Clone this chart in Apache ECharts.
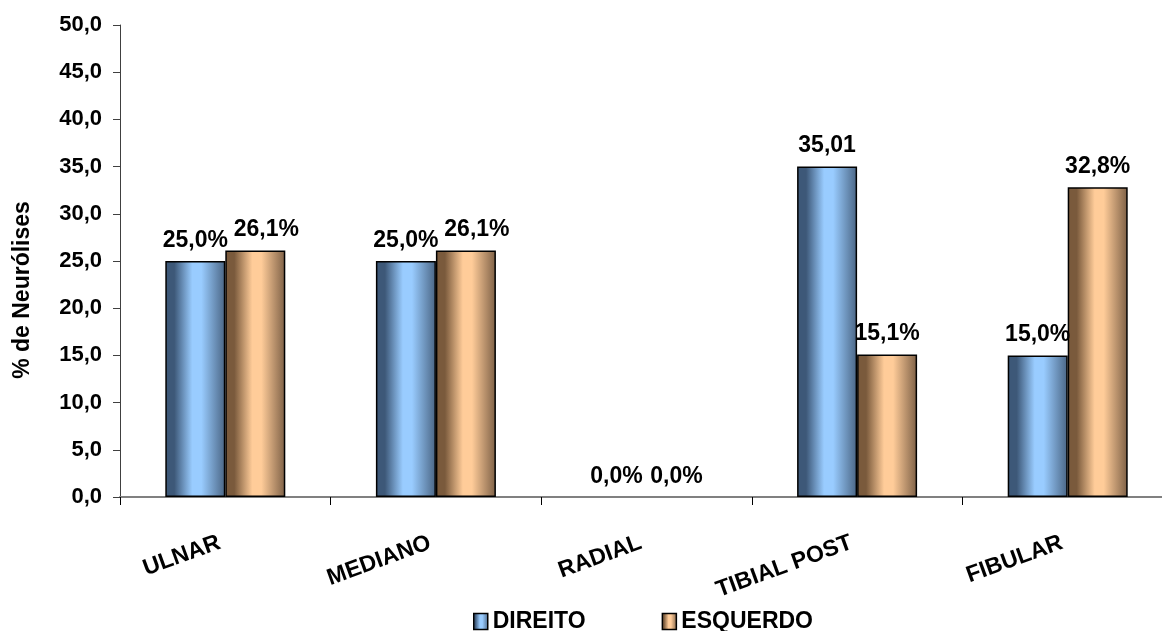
<!DOCTYPE html>
<html>
<head>
<meta charset="utf-8">
<style>
  html, body { margin: 0; padding: 0; background: #ffffff; }
  #chart { width: 1162px; height: 631px; }
</style>
<script src="https://cdn.jsdelivr.net/npm/echarts@6/dist/echarts.min.js"></script>
</head>
<body>
<div id="chart"></div>
<script>
// Nerves and share of neurolyses per side
const categories = ['ULNAR', 'MEDIANO', 'RADIAL', 'TIBIAL POST', 'FIBULAR'];
const direitoValues = [25.0, 25.0, 0.0, 35.01, 15.0];
const esquerdoValues = [26.1, 26.1, 0.0, 15.1, 32.8];
const direitoLabels = ['25,0%', '25,0%', '0,0%', '35,01', '15,0%'];
const esquerdoLabels = ['26,1%', '26,1%', '0,0%', '15,1%', '32,8%'];
const yTicks = [0, 5, 10, 15, 20, 25, 30, 35, 40, 45, 50];

const FONT = '"Liberation Sans", Arial, sans-serif';

// cylinder-like shading: dark edges, light centre
function shade(dark, light, darkRight) {
  return new echarts.graphic.LinearGradient(0, 0, 1, 0, [
    { offset: 0, color: dark },
    { offset: 0.15, color: dark },
    { offset: 0.45, color: light },
    { offset: 0.6, color: light },
    { offset: 1, color: darkRight }
  ]);
}
const blueFill = shade('#3d5878', '#99ccff', '#4a6584');
const tanFill = shade('#7a5a3c', '#ffcc99', '#7d6046');

const labelStyle = {
  show: true,
  position: 'top',
  distance: 9,
  color: '#000',
  fontFamily: FONT,
  fontWeight: 'bold',
  fontSize: 23
};

// the two overlapping right-hand labels are nudged sideways
const nudged = { 'ULNAR': 11, 'MEDIANO': 11 };

function buildData(values, labels, shiftMap) {
  return values.map((v, i) => {
    const item = { value: v, label: { formatter: labels[i] } };
    if (shiftMap && shiftMap[categories[i]]) {
      item.label.offset = [shiftMap[categories[i]], 0];
    }
    // empty bars leave no outline on the axis
    if (v === 0) {
      item.itemStyle = { borderWidth: 0 };
    }
    return item;
  });
}

const chart = echarts.init(document.getElementById('chart'));
chart.setOption({
  animation: false,
  backgroundColor: '#ffffff',
  grid: {
    left: 120, top: 25, width: 1053, height: 472,
    containLabel: false,
    outerBoundsMode: 'none'
  },
  legend: {
    left: 473,
    top: 610,
    padding: 0,
    icon: 'rect',
    itemWidth: 14,
    itemHeight: 16,
    itemGap: 76,
    textStyle: { fontFamily: FONT, fontWeight: 'bold', fontSize: 23, color: '#000' },
    data: [
      { name: 'DIREITO', itemStyle: { color: blueFill, borderColor: '#000', borderWidth: 1.5 } },
      { name: 'ESQUERDO', itemStyle: { color: tanFill, borderColor: '#000', borderWidth: 1.5 } }
    ]
  },
  xAxis: {
    type: 'category',
    data: categories,
    axisLine: { lineStyle: { color: '#808080', width: 2 } },
    axisTick: { show: true, length: 8, lineStyle: { color: '#000', width: 1 } },
    axisLabel: {
      rotate: 20,
      margin: 43,
      padding: [0, 6, 0, 0],
      color: '#000',
      fontFamily: FONT,
      fontWeight: 'bold',
      fontSize: 23,
      interval: 0
    },
    splitLine: { show: false }
  },
  yAxis: {
    type: 'value',
    min: yTicks[0],
    max: yTicks[yTicks.length - 1],
    interval: yTicks[1] - yTicks[0],
    name: '% de Neurólises',
    nameLocation: 'middle',
    nameGap: 86,
    nameRotate: 90,
    nameTextStyle: {
      fontFamily: FONT, fontWeight: 'bold', fontSize: 23, color: '#000',
      padding: [0, 58, 0, 0]
    },
    axisLine: { show: true, lineStyle: { color: '#404040', width: 1 } },
    axisTick: { show: true, length: 7, lineStyle: { color: '#404040' } },
    axisLabel: {
      margin: 18,
      color: '#000',
      fontFamily: FONT,
      fontWeight: 'bold',
      fontSize: 22,
      formatter: v => v.toFixed(1).replace('.', ',')
    },
    splitLine: { show: false }
  },
  series: [
    {
      name: 'DIREITO',
      type: 'bar',
      barWidth: 60,
      barGap: '0%',
      itemStyle: { color: blueFill, borderColor: '#000', borderWidth: 1.5 },
      label: labelStyle,
      data: buildData(direitoValues, direitoLabels)
    },
    {
      name: 'ESQUERDO',
      type: 'bar',
      barWidth: 60,
      barGap: '0%',
      itemStyle: { color: tanFill, borderColor: '#000', borderWidth: 1.5 },
      label: labelStyle,
      data: buildData(esquerdoValues, esquerdoLabels, nudged)
    }
  ]
});
</script>
</body>
</html>
